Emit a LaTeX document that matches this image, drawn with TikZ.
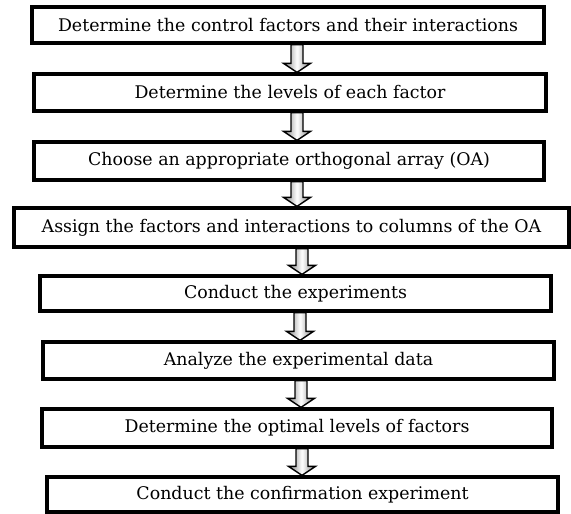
\documentclass[tikz,border=0pt]{standalone}
\usepackage{fontspec}
\setmainfont{DejaVu Serif}
\usetikzlibrary{calc}
\tikzset{
  stepbox/.style={draw=black, line width=3.2pt, fill=white, inner sep=0pt,
    font=\fontsize{17.4}{19}\selectfont, text=black},
  arrowbody/.style={draw=black, line width=1.4pt, left color=black!50, right color=black!50, middle color=white}
}
\newcommand{\flowarrow}[3]{%
  \path[arrowbody] let \p1=(#1.south), \p2=(#2.north) in
    ({#3pt-6pt},\y1) -- ({#3pt-6pt},{\y2+9pt}) -- ({#3pt-13.5pt},{\y2+9pt}) --
    ({#3pt},\y2) -- ({#3pt+13.5pt},{\y2+9pt}) -- ({#3pt+6pt},{\y2+9pt}) --
    ({#3pt+6pt},\y1) -- cycle;}
\begin{document}
\begin{tikzpicture}[x=1pt,y=-1pt]
\useasboundingbox[fill=white] (0,0) rectangle (571,514);
\node[stepbox, minimum width=512pt, minimum height=36pt] (b1) at (288,25) {Determine the control factors and their interactions};
\node[stepbox, minimum width=512pt, minimum height=37pt] (b2) at (290,92.5) {Determine the levels of each factor};
\node[stepbox, minimum width=510pt, minimum height=38pt] (b3) at (289,161) {Choose an appropriate orthogonal array (OA)};
\node[stepbox, minimum width=555pt, minimum height=39pt] (b4) at (291.5,227.5) {Assign the factors and interactions to columns of the OA};
\node[stepbox, minimum width=511pt, minimum height=35pt] (b5) at (295.5,293.5) {Conduct the experiments};
\node[stepbox, minimum width=511pt, minimum height=37pt] (b6) at (298.5,360.5) {Analyze the experimental data};
\node[stepbox, minimum width=510pt, minimum height=38pt] (b7) at (297,428) {Determine the optimal levels of factors};
\node[stepbox, minimum width=511pt, minimum height=35pt] (b8) at (302.5,494.5) {Conduct the confirmation experiment};
\flowarrow{b1}{b2}{297}
\flowarrow{b2}{b3}{297}
\flowarrow{b3}{b4}{297}
\flowarrow{b4}{b5}{302}
\flowarrow{b5}{b6}{300}
\flowarrow{b6}{b7}{301}
\flowarrow{b7}{b8}{302}
\end{tikzpicture}
\end{document}
